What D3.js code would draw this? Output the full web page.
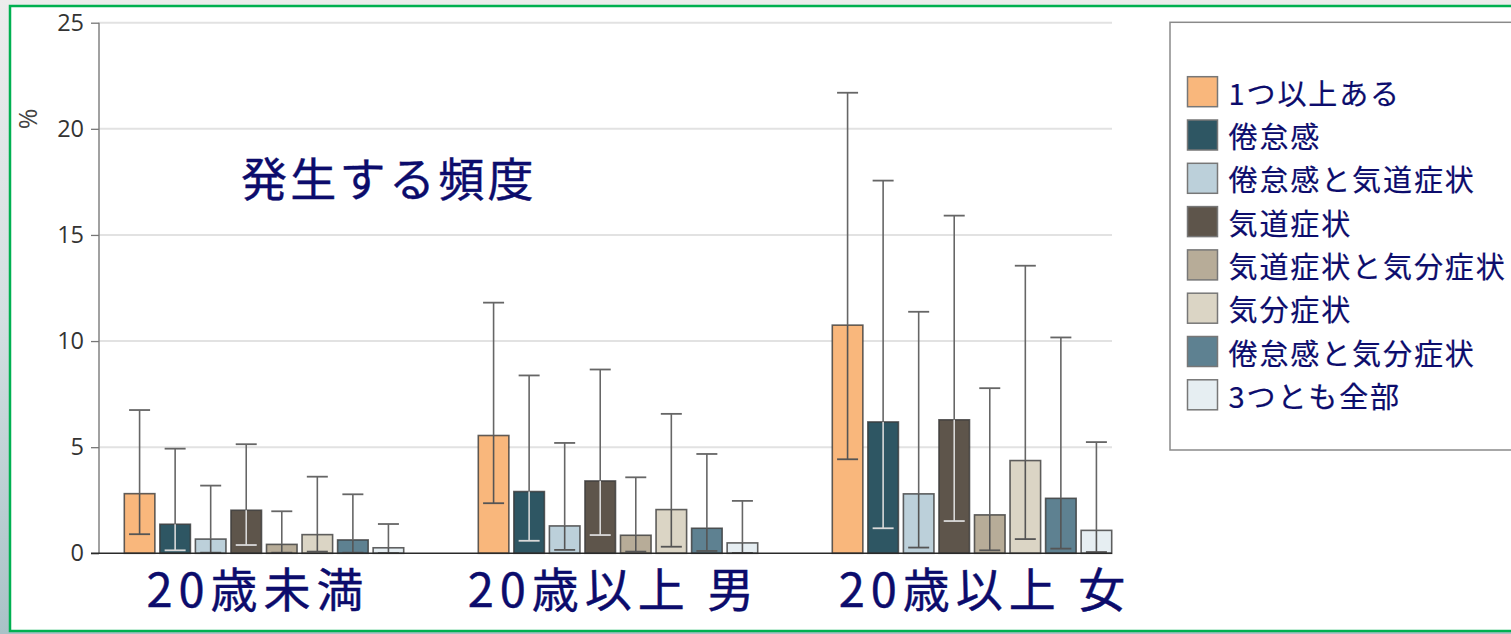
<!DOCTYPE html>
<html>
<head>
<meta charset="utf-8">
<script src="https://cdn.jsdelivr.net/npm/d3@7"></script>
<style>
  html, body { margin: 0; padding: 0; background: #ffffff; }
  svg { display: block; }
</style>
</head>
<body>
<svg id="chart" width="1511" height="634"></svg>
<script>
// Age / sex groups shown along the x axis
const groups = ["20歳未満", "20歳以上 男", "20歳以上 女"];

// Symptom combinations (one bar per group each)
const series = [
  "1つ以上ある",
  "倦怠感",
  "倦怠感と気道症状",
  "気道症状",
  "気道症状と気分症状",
  "気分症状",
  "倦怠感と気分症状",
  "3つとも全部"
];

const seriesColors = ["#F9B77C", "#2E5663", "#BCD0DA", "#5E554B", "#B7AC98", "#DBD5C5", "#5E8191", "#E6EEF2"];

// Frequency (%) per group, in series order
const rateUnder20 = [2.81, 1.37, 0.67, 2.03, 0.42, 0.88, 0.63, 0.26];
const rateMen20   = [5.55, 2.91, 1.29, 3.41, 0.85, 2.06, 1.18, 0.49];
const rateWomen20 = [10.75, 6.19, 2.80, 6.29, 1.81, 4.37, 2.59, 1.08];

// Lower / upper interval bounds (%)
const lowUnder20  = [0.90, 0.14, 0.03, 0.39, 0.03, 0.08, 0.03, 0.01];
const highUnder20 = [6.75, 4.93, 3.19, 5.14, 1.98, 3.61, 2.78, 1.38];
const lowMen20    = [2.36, 0.59, 0.16, 0.86, 0.08, 0.31, 0.11, 0.02];
const highMen20   = [11.81, 8.38, 5.20, 8.66, 3.58, 6.57, 4.68, 2.47];
const lowWomen20  = [4.43, 1.18, 0.27, 1.52, 0.14, 0.67, 0.22, 0.06];
const highWomen20 = [21.70, 17.56, 11.38, 15.91, 7.78, 13.55, 10.17, 5.24];

const yTicks = [0, 5, 10, 15, 20, 25];

const chartTitle = "発生する頻度";
const yLabel = "%";

// ---------------------------------------------------------------
const rates = [rateUnder20, rateMen20, rateWomen20];
const lows = [lowUnder20, lowMen20, lowWomen20];
const highs = [highUnder20, highMen20, highWomen20];

const rows = [];
groups.forEach((g, gi) => {
  series.forEach((s, si) => {
    rows.push({ group: g, series: s, si, value: rates[gi][si], low: lows[gi][si], high: highs[gi][si] });
  });
});

const W = 1511, H = 634;
const svg = d3.select("#chart");
const defs = svg.append("defs");

// slide background
const grad = defs.append("linearGradient").attr("id", "bgGrad")
  .attr("x1", 0).attr("y1", 0).attr("x2", 0).attr("y2", 1);
grad.append("stop").attr("offset", "0%").attr("stop-color", "#ececec");
grad.append("stop").attr("offset", "50%").attr("stop-color", "#d3dfe1");
grad.append("stop").attr("offset", "100%").attr("stop-color", "#a9c2c7");
svg.append("rect").attr("x", 0).attr("y", 0).attr("width", W).attr("height", H).attr("fill", "url(#bgGrad)");

// white panel with green frame
svg.append("rect")
  .attr("x", 10).attr("y", 6).attr("width", W + 20).attr("height", 625)
  .attr("fill", "#ffffff").attr("stroke", "#00B050").attr("stroke-width", 2.5);

const plotLeft = 99, plotRight = 1112, plotTop = 22.7, plotBottom = 553.3;

const y = d3.scaleLinear().domain([0, 25]).range([plotBottom, plotTop]);

const x0 = d3.scaleBand().domain(groups).range([124.3, 1111.7]).paddingInner(0.2107).paddingOuter(0);
const x1 = d3.scaleBand().domain(series).range([0, x0.bandwidth()]).paddingInner(0.14).paddingOuter(0);

const color = d3.scaleOrdinal().domain(series).range(seriesColors);

// gridlines
svg.append("g").selectAll("line").data(yTicks.filter(t => t > 0)).join("line")
  .attr("x1", plotLeft).attr("x2", plotRight)
  .attr("y1", d => y(d)).attr("y2", d => y(d))
  .attr("stroke", "#e2e2e2").attr("stroke-width", 2);

// y axis
const yAxis = svg.append("g").attr("transform", `translate(${plotLeft},0)`)
  .call(d3.axisLeft(y).tickValues(yTicks).tickSize(8).tickPadding(7));
yAxis.select(".domain").attr("stroke", "#8a8a8a").attr("stroke-width", 1.6)
  .attr("d", `M0,${plotTop}V${plotBottom}`);
yAxis.selectAll(".tick line").attr("stroke", "#777").attr("stroke-width", 1.3);
yAxis.selectAll(".tick text")
  .attr("fill", "#333").style("font-family", "'Open Sans', 'DejaVu Sans', sans-serif").style("font-size", "23.5px");

// y label
svg.append("text")
  .attr("transform", `translate(27,119) rotate(-90)`)
  .attr("text-anchor", "middle")
  .attr("dominant-baseline", "central")
  .attr("fill", "#444")
  .style("font-family", "'Open Sans', 'DejaVu Sans', sans-serif").style("font-size", "25px")
  .text(yLabel);

// bars
const barG = svg.append("g");
barG.selectAll("rect").data(rows).join("rect")
  .attr("x", d => x0(d.group) + x1(d.series))
  .attr("y", d => y(d.value))
  .attr("width", x1.bandwidth())
  .attr("height", d => y(0) - y(d.value))
  .attr("fill", d => color(d.series))
  .attr("stroke", "#3a3a3a").attr("stroke-opacity", 0.8).attr("stroke-width", 1.6);

// interval whiskers
function innerColor(c) {
  const l = d3.hsl(c).l;
  return l < 0.45 ? "#d9d9d9" : "#555";
}
const capW = 21;
const errG = svg.append("g");
rows.forEach(d => {
  const cx = x0(d.group) + x1(d.series) + x1.bandwidth() / 2;
  const inner = innerColor(color(d.series));
  // part above the bar top
  errG.append("line").attr("x1", cx).attr("x2", cx).attr("y1", y(d.high)).attr("y2", y(d.value))
    .attr("stroke", "#666").attr("stroke-width", 1.6);
  errG.append("line").attr("x1", cx - capW / 2).attr("x2", cx + capW / 2).attr("y1", y(d.high)).attr("y2", y(d.high))
    .attr("stroke", "#666").attr("stroke-width", 1.8);
  // part inside the bar
  errG.append("line").attr("x1", cx).attr("x2", cx).attr("y1", y(d.value)).attr("y2", y(d.low))
    .attr("stroke", inner).attr("stroke-width", 1.6);
  errG.append("line").attr("x1", cx - capW / 2).attr("x2", cx + capW / 2).attr("y1", y(d.low)).attr("y2", y(d.low))
    .attr("stroke", inner).attr("stroke-width", 1.8);
});

// baseline
svg.append("line").attr("x1", 91).attr("x2", plotRight).attr("y1", y(0)).attr("y2", y(0))
  .attr("stroke", "#2a2a2a").attr("stroke-width", 1.6);

const navy = "#0c0c6c";
const jpFont = "'Noto Sans CJK JP', 'Noto Sans CJK SC', sans-serif";

// group labels (slightly shifted from the band centres)
const labelShift = [-9, -7, 10];
svg.append("g").selectAll("text").data(groups).join("text")
  .attr("x", (d, i) => x0(d) + x0.bandwidth() / 2 + labelShift[i] + 3)
  .attr("y", 586)
  .attr("text-anchor", "middle")
  .attr("dominant-baseline", "central")
  .attr("fill", navy).attr("stroke", navy).attr("stroke-width", 0.4)
  .style("font-family", jpFont).style("font-size", "47px").style("letter-spacing", "6px")
  .text(d => d);

// title
svg.append("text")
  .attr("x", 241).attr("y", 176)
  .attr("dominant-baseline", "central")
  .attr("fill", navy).attr("stroke", navy).attr("stroke-width", 0.4)
  .style("font-family", jpFont).style("font-size", "46px").style("letter-spacing", "3.3px")
  .text(chartTitle);

// legend
const lg = svg.append("g");
lg.append("rect").attr("x", 1170).attr("y", 22.3).attr("width", 400).attr("height", 427.7)
  .attr("fill", "#ffffff").attr("stroke", "#8a8a8a").attr("stroke-width", 1.5);
const items = lg.selectAll("g.item").data(series).join("g").attr("class", "item")
  .attr("transform", (d, i) => `translate(1187.5,${76.7 + i * 43.3})`);
items.append("rect").attr("width", 30).attr("height", 30)
  .attr("fill", d => color(d)).attr("stroke", "#777").attr("stroke-width", 1.5);
items.append("text").attr("x", 41).attr("y", 15)
  .attr("dominant-baseline", "central")
  .attr("fill", navy).attr("stroke", navy).attr("stroke-width", 0.2)
  .style("font-family", jpFont).style("font-size", "29px").style("letter-spacing", "1.9px")
  .text(d => d);
</script>
</body>
</html>
